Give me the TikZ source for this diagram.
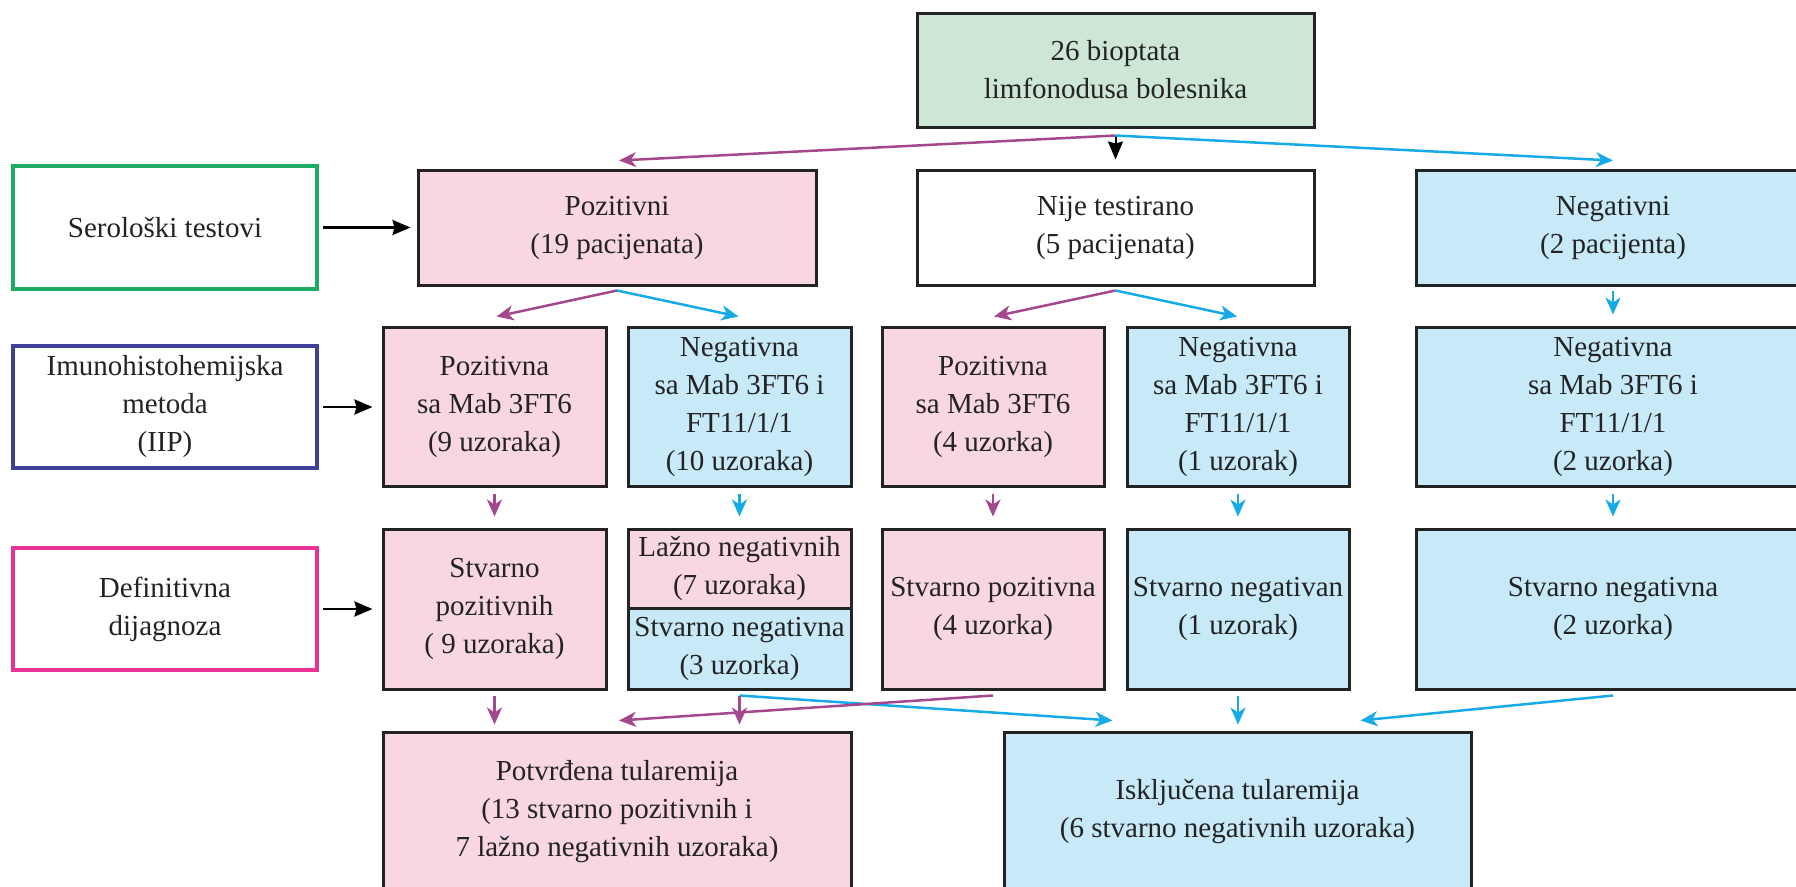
\documentclass[tikz,border=0pt]{standalone}
\usepackage{fontspec}
\setmainfont{Liberation Serif}
\usetikzlibrary{arrows.meta,calc}

\definecolor{pinkfill}{RGB}{249,214,228}
\definecolor{bluefill}{RGB}{200,233,248}
\definecolor{greenfill}{RGB}{206,230,213}
\definecolor{plum}{RGB}{163,72,140}
\definecolor{sky}{RGB}{22,170,230}
\definecolor{serogreen}{RGB}{30,172,100}
\definecolor{imunoblue}{RGB}{64,64,155}
\definecolor{defmagenta}{RGB}{232,52,150}
\definecolor{inkgray}{RGB}{35,35,35}

\tikzset{
  box/.style={draw=inkgray, line width=3pt, inner sep=0pt, align=center,
    text=inkgray, font=\fontsize{29}{38}\selectfont},
  posbox/.style={box, fill=pinkfill},
  negbox/.style={box, fill=bluefill},
  plainbox/.style={box, fill=white},
  labelbox/.style={box, fill=white, line width=3.5pt},
  tipstyle/.style={-{Stealth[length=17pt,width=15pt,inset=5pt]}},
  parr/.style={tipstyle, draw=plum, fill=plum, line width=2.5pt},
  barr/.style={tipstyle, draw=sky, fill=sky, line width=2.5pt},
  karr/.style={-{Stealth[length=18pt,width=15pt,inset=2pt]}, draw=black, line width=2.5pt},
}

\begin{document}
\begin{tikzpicture}[x=1pt, y=-1pt]
\useasboundingbox (0,0) rectangle (1796,886);
\clip (0,0) rectangle (1796,886);

% top node
\node[box, fill=greenfill, minimum width=397pt, minimum height=114pt] (top) at (1115.5,70)
  {26 bioptata\\limfonodusa bolesnika};

% row labels on the left
\node[labelbox, draw=serogreen, minimum width=304pt, minimum height=123pt] (sero) at (165,227.5)
  {Serološki testovi};
\node[labelbox, draw=imunoblue, minimum width=304pt, minimum height=122pt] (imuno) at (165,407)
  {Imunohistohemijska\\metoda\\(IIP)};
\node[labelbox, draw=defmagenta, minimum width=304pt, minimum height=122pt] (defin) at (165,609)
  {Definitivna\\dijagnoza};

% serology results
\node[posbox, minimum width=398pt, minimum height=115pt] (poz) at (617,227.5)
  {Pozitivni\\(19 pacijenata)};
\node[plainbox, minimum width=397pt, minimum height=115pt] (nije) at (1115.5,227.5)
  {Nije testirano\\(5 pacijenata)};
\node[negbox, minimum width=394pt, minimum height=115pt] (neg) at (1613,227.5)
  {Negativni\\(2 pacijenta)};

% immunohistochemistry results
\node[posbox, minimum width=223pt, minimum height=159pt] (ra) at (494.5,406.5)
  {Pozitivna\\sa Mab 3FT6\\(9 uzoraka)};
\node[negbox, minimum width=223pt, minimum height=159pt] (rb) at (739.5,406.5)
  {Negativna\\sa Mab 3FT6 i\\FT11/1/1\\(10 uzoraka)};
\node[posbox, minimum width=222pt, minimum height=159pt] (rc) at (993,406.5)
  {Pozitivna\\sa Mab 3FT6\\(4 uzorka)};
\node[negbox, minimum width=222pt, minimum height=159pt] (rd) at (1238,406.5)
  {Negativna\\sa Mab 3FT6 i\\FT11/1/1\\(1 uzorak)};
\node[negbox, minimum width=394pt, minimum height=159pt] (re) at (1613,406.5)
  {Negativna\\sa Mab 3FT6 i\\FT11/1/1\\(2 uzorka)};

% definitive diagnosis
\node[posbox, minimum width=223pt, minimum height=160pt] (da) at (494.5,609)
  {Stvarno\\pozitivnih\\( 9 uzoraka)};
\node[posbox, minimum width=223pt, minimum height=79pt] (dbt) at (739.5,568.5)
  {Lažno negativnih\\(7 uzoraka)};
\node[negbox, minimum width=223pt, minimum height=81pt] (dbb) at (739.5,648.5)
  {Stvarno negativna\\(3 uzorka)};
\node[posbox, minimum width=222pt, minimum height=160pt] (dc) at (993,609)
  {Stvarno pozitivna\\(4 uzorka)};
\node[negbox, minimum width=222pt, minimum height=160pt] (dd) at (1238,609)
  {Stvarno negativan\\(1 uzorak)};
\node[negbox, minimum width=394pt, minimum height=160pt] (de) at (1613,609)
  {Stvarno negativna\\(2 uzorka)};

% outcomes
\node[posbox, minimum width=468pt, minimum height=160pt] (pot) at (617,812)
  {Potvrđena tularemija\\(13 stvarno pozitivnih i\\7 lažno negativnih uzoraka)};
\node[negbox, minimum width=467pt, minimum height=160pt] (isk) at (1237.5,812)
  {Isključena tularemija\\(6 stvarno negativnih uzoraka)};

% arrows from the row labels
\draw[karr] ($(sero.east)+(4,0)$) -- ($(poz.west)+(-6,0)$);
\draw[karr] ($(imuno.east)+(4,0)$) -- ($(ra.west |- imuno.east)+(-9,0)$);
\draw[karr] ($(defin.east)+(4,0)$) -- ($(da.west |- defin.east)+(-9,0)$);

% split of the 26 samples
\coordinate (t0) at ($(top.south)+(0,7)$);
\draw[parr] (t0) -- ($(poz.north)+(2,-8)$);
\draw[karr, line width=2pt] (t0) -- ($(nije.north)+(0,-9)$);
\draw[barr] (t0) -- ($(neg.north)+(0,-8)$);

% serology -> immunohistochemistry
\coordinate (p0) at ($(poz.south)+(0,4)$);
\draw[parr] (p0) -- ($(ra.north)+(2,-9)$);
\draw[barr] (p0) -- ($(rb.north)+(-1,-9)$);
\coordinate (n0) at ($(nije.south)+(0,4)$);
\draw[parr] (n0) -- ($(rc.north)+(1,-9)$);
\draw[barr] (n0) -- ($(rd.north)+(-1,-9)$);
\draw[barr] ($(neg.south)+(0,4)$) -- ($(re.north)+(0,-11)$);

% immunohistochemistry -> definitive diagnosis
\draw[parr] ($(ra.south)+(0,6)$) -- ($(da.north)+(0,-11)$);
\draw[barr] ($(rb.south)+(0,6)$) -- ($(dbt.north)+(0,-11)$);
\draw[parr] ($(rc.south)+(0,6)$) -- ($(dc.north)+(0,-11)$);
\draw[barr] ($(rd.south)+(0,6)$) -- ($(dd.north)+(0,-11)$);
\draw[barr] ($(re.south)+(0,6)$) -- ($(de.north)+(0,-11)$);

% definitive diagnosis -> outcome
\draw[parr] ($(da.south)+(0,5)$) -- ($(da.south |- pot.north)+(0,-6)$);
\draw[barr] ($(dbb.south)+(0,5)$) -- ($(isk.north west)+(110,-10)$);
\draw[parr] ($(dc.south)+(0,5)$) -- ($(pot.north)+(2,-10)$);
\draw[parr] ($(dbb.south)+(0,5)$) -- ($(dbb.south |- pot.north)+(0,-6)$);
\draw[barr] ($(dd.south)+(0,5)$) -- ($(dd.south |- isk.north)+(0,-6)$);
\draw[barr] ($(de.south)+(0,5)$) -- ($(isk.north west)+(358,-10)$);
\end{tikzpicture}
\end{document}
